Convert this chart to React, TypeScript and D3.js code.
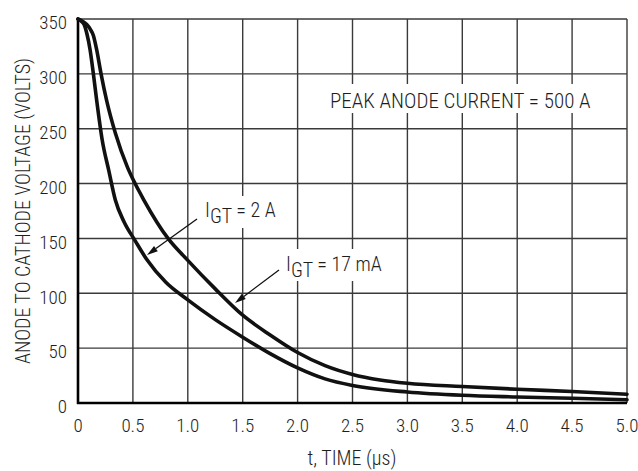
import React from "react";
import * as d3 from "d3";

const xTicks = [0, 0.5, 1.0, 1.5, 2.0, 2.5, 3.0, 3.5, 4.0, 4.5, 5.0];
const yTicks = [0, 50, 100, 150, 200, 250, 300, 350];

// I_GT = 2 A (faster fall)
const t2A = [0, 0.03, 0.06, 0.08, 0.11, 0.14, 0.17, 0.22, 0.28, 0.34, 0.42, 0.52, 0.625, 0.8, 1.0, 1.25, 1.5, 1.75, 2.0, 2.25, 2.5, 3.0, 3.5, 4.0, 4.5, 5.0];
const v2A = [350, 348, 344, 337, 322, 300, 276, 240, 212, 185, 165, 148, 131, 110, 94, 76, 60, 45, 32, 22, 16, 10, 7, 5.5, 4.3, 3];

// I_GT = 17 mA (slower fall)
const t17mA = [0, 0.04, 0.08, 0.11, 0.14, 0.17, 0.21, 0.26, 0.34, 0.45, 0.52, 0.6, 0.82, 1.0, 1.25, 1.5, 1.75, 2.0, 2.25, 2.5, 2.75, 3.0, 3.5, 4.0, 4.5, 5.0];
const v17mA = [350, 348, 345, 341, 335, 322, 300, 276, 246, 215, 200, 185, 150, 130, 104, 80, 62, 46, 34, 26, 21, 18, 15, 12.5, 10.5, 8];

const FONT = "'Liberation Sans Narrow', 'Roboto Condensed', 'Arial Narrow', sans-serif";

export default function App() {
  const x = d3.scaleLinear().domain([0, 5]).range([78, 627]);
  const y = d3.scaleLinear().domain([0, 350]).range([403, 19]);
  const line = d3
    .line<[number, number]>()
    .x((d) => x(d[0]))
    .y((d) => y(d[1]))
    .curve(d3.curveMonotoneX);
  const d2A = line(t2A.map((t, i) => [t, v2A[i]] as [number, number])) || "";
  const d17 = line(t17mA.map((t, i) => [t, v17mA[i]] as [number, number])) || "";

  const arrow = (x1: number, y1: number, x2: number, y2: number) => {
    const ang = Math.atan2(y2 - y1, x2 - x1);
    const L = 11, W = 3.2;
    const bx = x2 - L * Math.cos(ang), by = y2 - L * Math.sin(ang);
    const px = -Math.sin(ang) * W, py = Math.cos(ang) * W;
    return (
      <g>
        <line x1={x1} y1={y1} x2={bx} y2={by} stroke="#111" strokeWidth={1.3} />
        <polygon points={`${x2},${y2} ${bx + px},${by + py} ${bx - px},${by - py}`} fill="#111" />
      </g>
    );
  };

  const txt = "#1e1e1e";

  return (
    <svg width={638} height={471} style={{ position: "absolute", left: 0, top: 0, background: "#fff" }} fontFamily={FONT} fontWeight={300}>
      <rect x={0} y={0} width={638} height={471} fill="#fff" />
      {/* grid */}
      {xTicks.map((t) => (
        <line key={"gx" + t} x1={x(t)} x2={x(t)} y1={y(350)} y2={y(0)} stroke="#3a3a3a" strokeWidth={1.4} />
      ))}
      {yTicks.map((v) => (
        <line key={"gy" + v} x1={x(0)} x2={x(5)} y1={y(v)} y2={y(v)} stroke="#3a3a3a" strokeWidth={1.4} />
      ))}
      {/* axes */}
      <line x1={x(0)} x2={x(0)} y1={y(350)} y2={y(0) + 1} stroke="#000" strokeWidth={2.6} />
      <line x1={x(0) - 1} x2={x(5)} y1={y(0)} y2={y(0)} stroke="#000" strokeWidth={2.6} />

      {/* label backgrounds */}
      <rect x={326} y={84} width={274} height={29} fill="#fff" />
      <rect x={201} y={196} width={84} height={32} fill="#fff" />
      <rect x={282} y={249} width={74} height={32} fill="#fff" />

      {/* curves */}
      <path d={d2A} fill="none" stroke="#111" strokeWidth={3.6} strokeLinecap="round" />
      <path d={d17} fill="none" stroke="#111" strokeWidth={3.6} strokeLinecap="round" />

      {/* tick labels */}
      {yTicks.map((v) => (
        <text key={"ty" + v} x={67} y={y(v) + 10.3} textAnchor="end" fontSize={19} fill={txt}>
          {v}
        </text>
      ))}
      {xTicks.map((t) => (
        <text key={"tx" + t} x={x(t)} y={432} textAnchor="middle" fontSize={19} fill={txt}>
          {t === 0 ? "0" : t.toFixed(1)}
        </text>
      ))}

      {/* axis titles */}
      <text x={352} y={465} textAnchor="middle" fontSize={20} fill={txt}>
        t, TIME (µs)
      </text>
      <text transform={`translate(30, ${(y(0) + y(350)) / 2}) rotate(-90)`} textAnchor="middle" fontSize={20} fill={txt}>
        ANODE TO CATHODE VOLTAGE (VOLTS)
      </text>

      {/* annotations */}
      <text x={330} y={108} fontSize={21} fill={txt}>
        PEAK ANODE CURRENT = 500 A
      </text>
      <text x={205} y={217} fontSize={20} fill={txt}>
        I<tspan dy={6}>GT</tspan>
        <tspan dy={-6}> = 2 A</tspan>
      </text>
      <text x={286} y={271} fontSize={20} fill={txt}>
        I<tspan dy={6}>GT</tspan>
        <tspan dy={-6}> = 17 mA</tspan>
      </text>
      {arrow(197, 219, 147, 255)}
      {arrow(279, 270, 235, 303)}
    </svg>
  );
}
